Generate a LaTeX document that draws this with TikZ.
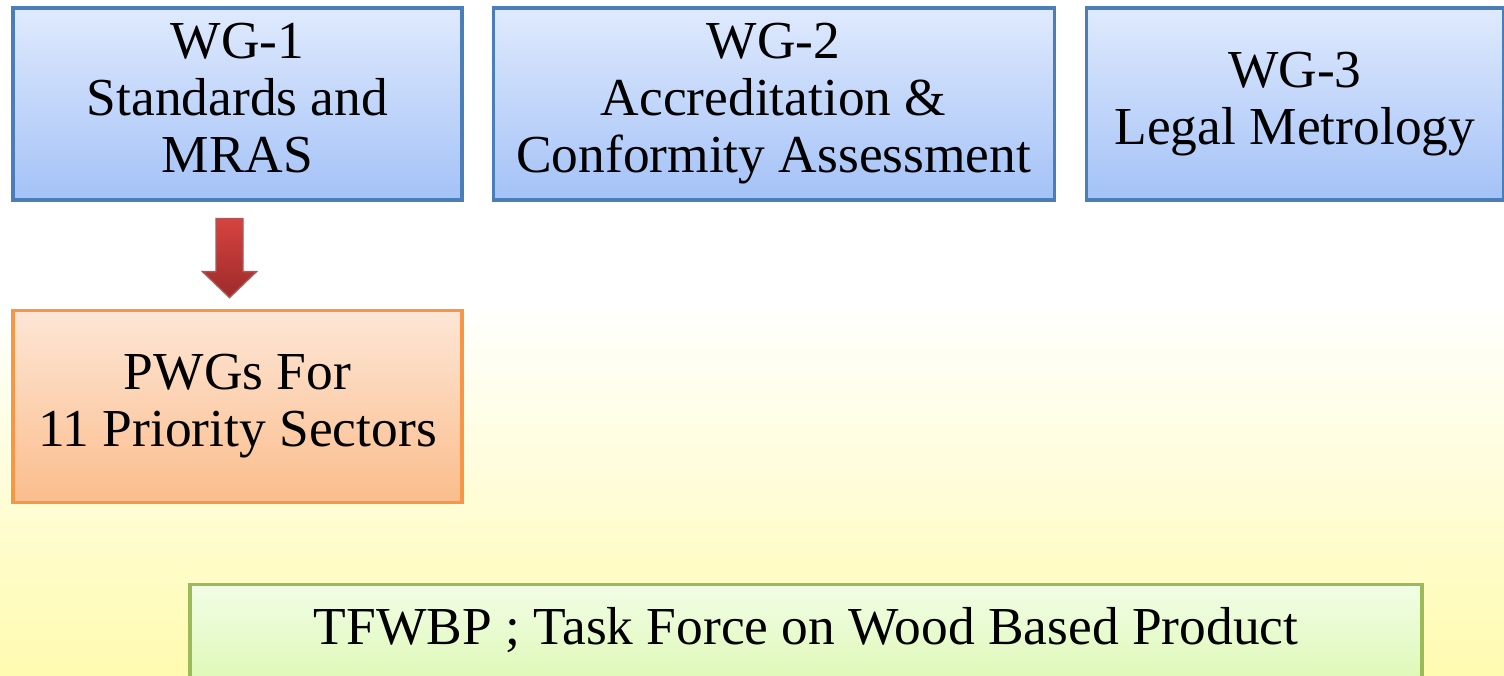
\documentclass[tikz,border=0pt]{standalone}
\usepackage{fontspec}
\setmainfont{Liberation Serif}
\usetikzlibrary{positioning,calc}
\definecolor{cBe}{HTML}{4A7EBB}
\definecolor{cBt}{HTML}{DFEAFD}
\definecolor{cBb}{HTML}{A4C2F7}
\definecolor{cOe}{HTML}{F79646}
\definecolor{cOt}{HTML}{FDE6D6}
\definecolor{cOb}{HTML}{FBBD8C}
\definecolor{cGe}{HTML}{9BBB59}
\definecolor{cGt}{HTML}{F1FDE6}
\definecolor{cGb}{HTML}{D9F7A6}
\definecolor{cRt}{HTML}{D6433F}
\definecolor{cRb}{HTML}{9C2B2B}
\definecolor{cYb}{HTML}{FFFBB0}
\tikzset{
  wgbox/.style={draw=cBe,line width=.9pt,top color=cBt,bottom color=cBb,
              minimum height=1.92cm,inner sep=0pt,align=center,text depth=.12cm,
              font=\fontsize{15.2}{16.2}\selectfont},
  pwgbox/.style={wgbox,draw=cOe,top color=cOt,bottom color=cOb},
  tfbox/.style={draw=cGe,line width=.9pt,top color=cGt,bottom color=cGb,
              minimum width=12.32cm,inner xsep=0pt,inner ysep=.18cm,
              text height=.42cm,text depth=.52cm,
              font=\fontsize{15.2}{16.2}\selectfont},
  blockarrow/.style={draw=cRb!80,line width=.4pt,top color=cRt,bottom color=cRb},
}
\begin{document}
\begin{tikzpicture}
  % page and background
  \useasboundingbox (0,0) rectangle (15.04,6.75);
  \fill[white] (0,3.7) rectangle (15.04,6.75);
  \shade[top color=white,bottom color=cYb] (0,0) rectangle (15.04,3.72);
  % working groups
  \node[wgbox,minimum width=4.49cm] (wg1) at (2.375,5.71) {WG-1\\Standards and\\MRAS};
  \node[wgbox,minimum width=5.61cm,right=.28cm of wg1] (wg2) {WG-2\\Accreditation \&\\Conformity Assessment};
  \node[wgbox,minimum width=4.17cm,right=.29cm of wg2] (wg3) {WG-3\\Legal Metrology};
  \node[pwgbox,minimum width=4.49cm,below=1.07cm of wg1] (pwg) {PWGs For\\11 Priority Sectors};
  \node[tfbox,anchor=north] (tf) at (8.06,.92) {TFWBP ; Task Force on Wood Based Product};
  % block arrow wg1 -> pwg
  \coordinate (atop) at ([xshift=-.08cm,yshift=-.17cm]wg1.south);
  \coordinate (atip) at ([xshift=-.08cm,yshift=.11cm]pwg.north);
  \shade[blockarrow] ($(atop)+(-.135,0)$) -- ($(atop)+(.135,0)$)
    -- ($(atip)+(.135,.26)$) -- ($(atip)+(.27,.26)$) -- (atip)
    -- ($(atip)+(-.27,.26)$) -- ($(atip)+(-.135,.26)$) -- cycle;
\end{tikzpicture}
\end{document}
